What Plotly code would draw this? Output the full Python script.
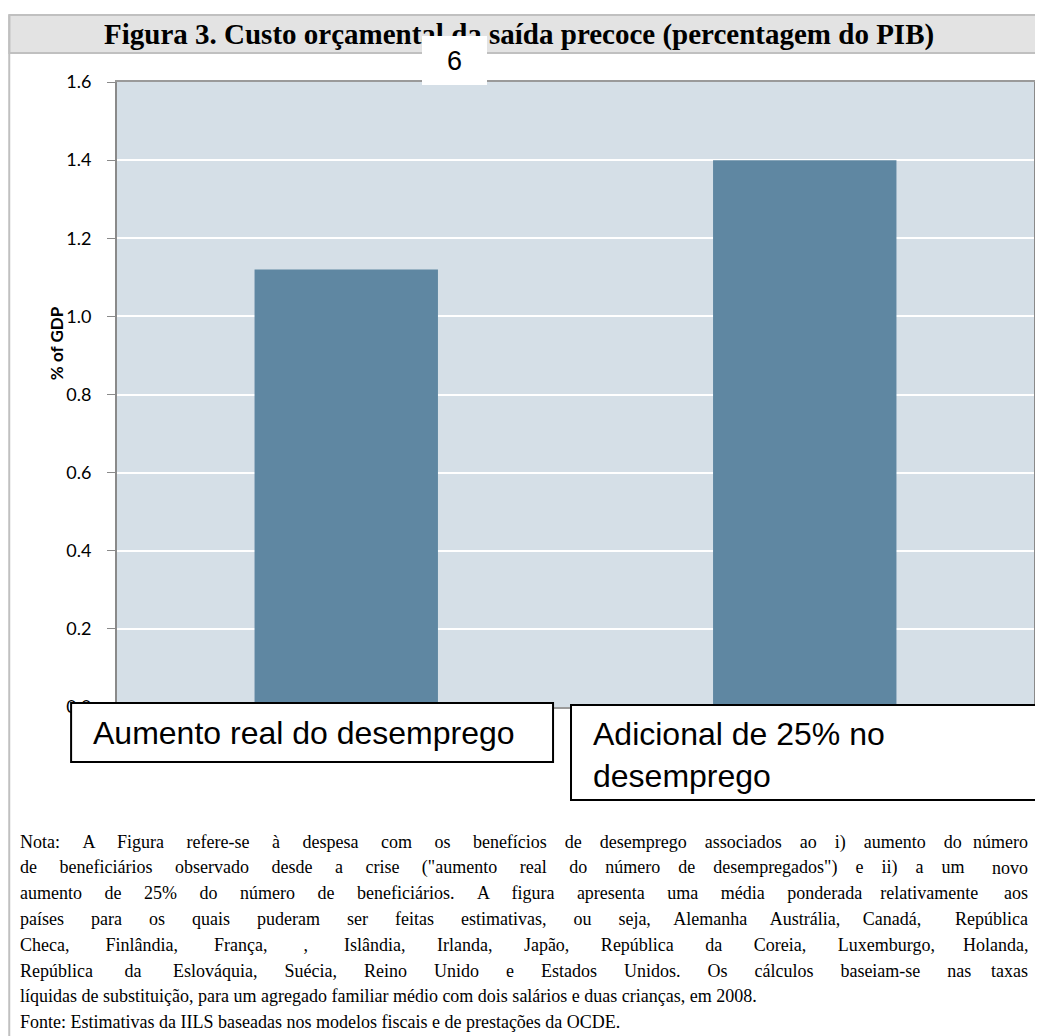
import plotly.graph_objects as go

# ---------------- data ----------------
categories = ["Aumento real do desemprego", "Adicional de 25% no<br>desemprego"]
values = [1.12, 1.40]
y_ticks = [0.0, 0.2, 0.4, 0.6, 0.8, 1.0, 1.2, 1.4, 1.6]
y_tick_labels = ["0.0", "0.2", "0.4", "0.6", "0.8", "1.0", "1.2", "1.4", "1.6"]
title_text = "Figura 3. Custo orçamental da saída precoce (percentagem do PIB)"
page_number = "6"
y_title = "% of GDP"
note_lines = [
    "Nota: A Figura refere-se à despesa com os benefícios de desemprego associados ao i) aumento do número",
    "de beneficiários observado desde a crise (\"aumento real do número de desempregados\") e ii) a um novo",
    "aumento de 25% do número de beneficiários. A figura apresenta uma média ponderada relativamente aos",
    "países para os quais puderam ser feitas estimativas, ou seja, Alemanha Austrália, Canadá, República",
    "Checa, Finlândia, França, , Islândia, Irlanda, Japão, República da Coreia, Luxemburgo, Holanda,",
    "República da Eslováquia, Suécia, Reino Unido e Estados Unidos. Os cálculos baseiam-se nas taxas",
    "líquidas de substituição, para um agregado familiar médio com dois salários e duas crianças, em 2008.",
    "Fonte: Estimativas da IILS baseadas nos modelos fiscais e de prestações da OCDE.",
]
# approximate natural widths (px) of each note line at the chosen font size, used to justify
note_natural_widths = [762, 762, 772, 740, 697, 714, None, None]

# ---------------- layout geometry (reference pixels) ----------------
OFF = 8                      # browser body margin
W, H = 1043 - OFF, 1036 - OFF
PL, PR, PT, PB = 117, 1036, 82, 707


def px(x):
    return (x - PL) / (PR - PL)


def py(y):
    return (PB - y) / (PB - PT)


BAR_COLOR = "#5f87a2"
PLOT_BG = "#d5dfe7"
NOTE_SIZE = 18
SPACE_W = 0.25 * NOTE_SIZE
NOTE_LEFT, NOTE_RIGHT = 18, 1032


def justify_head(line, natural):
    """Pad the words (except the last one) with extra spaces; last word is placed right-aligned."""
    words = line.split(" ")
    head, tail = words[:-1], words[-1]
    gaps = len(words) - 1
    n_extra = max(0, round(((NOTE_RIGHT - NOTE_LEFT) - natural) / SPACE_W))
    base, rem = divmod(n_extra, gaps)
    out = head[0]
    for i, w in enumerate(head[1:]):
        k = base + (1 if i < rem else 0)
        out += " " + "\u00a0" * k + w
    return out, tail


fig = go.Figure()
fig.add_trace(go.Bar(
    x=categories, y=values, marker=dict(color=BAR_COLOR, line=dict(width=0)),
    width=0.4, hoverinfo="skip",
))

shapes = [
    dict(type="rect", xref="paper", yref="paper", x0=px(9), x1=px(1050), y0=py(53), y1=py(15),
         fillcolor="#e3e3e3", line=dict(color="#c0c0c0", width=2), layer="below"),
    dict(type="line", xref="paper", yref="paper", x0=px(9), x1=px(9), y0=py(15), y1=py(1040),
         line=dict(color="#c0c0c0", width=2), layer="below"),
    dict(type="rect", xref="paper", yref="paper", x0=px(71), x1=px(554), y0=py(762), y1=py(703),
         fillcolor="white", line=dict(color="black", width=2), layer="above"),
    dict(type="rect", xref="paper", yref="paper", x0=px(572), x1=px(1060), y0=py(800), y1=py(705),
         fillcolor="white", line=dict(color="black", width=2), layer="above"),
]

annotations = [
    dict(text="<b>" + title_text + "</b>", xref="paper", yref="paper", x=px(520), y=py(34),
         xanchor="center", yanchor="middle", showarrow=False,
         font=dict(family="Liberation Serif", size=29, color="black")),
    dict(text=page_number, xref="paper", yref="paper", x=px(455.5), y=py(60.5),
         xanchor="center", yanchor="middle", showarrow=False, width=65, height=49,
         bgcolor="white", borderpad=0, borderwidth=0,
         font=dict(family="Liberation Sans", size=27, color="black")),
    dict(text="<b>" + y_title + "</b>", xref="paper", yref="paper", x=px(56), y=py(343),
         xanchor="center", yanchor="middle", showarrow=False, textangle=-90,
         font=dict(family="Lato", size=17, color="black")),
    dict(text=categories[0], xref="paper", yref="paper", x=px(91), y=py(733),
         xanchor="left", yanchor="middle", showarrow=False,
         font=dict(family="Liberation Sans", size=32, color="black")),
    dict(text=categories[1], xref="paper", yref="paper", x=px(592), y=py(755),
         xanchor="left", yanchor="middle", showarrow=False, align="left",
         font=dict(family="Liberation Sans", size=32, color="black")),
]

note_font = dict(family="Liberation Serif", size=NOTE_SIZE, color="black")
for i, line in enumerate(note_lines):
    yy = py(842 + 25.7 * i)
    nat = note_natural_widths[i]
    if nat is None:
        annotations.append(dict(text=line, xref="paper", yref="paper", x=px(NOTE_LEFT), y=yy,
                                xanchor="left", yanchor="middle", showarrow=False, font=note_font))
    else:
        head, tail = justify_head(line, nat)
        annotations.append(dict(text=head, xref="paper", yref="paper", x=px(NOTE_LEFT), y=yy,
                                xanchor="left", yanchor="middle", showarrow=False, font=note_font))
        annotations.append(dict(text=tail, xref="paper", yref="paper", x=px(NOTE_RIGHT), y=yy,
                                xanchor="right", yanchor="middle", showarrow=False, font=note_font))

fig.update_layout(
    width=W, height=H,
    margin=dict(l=PL - OFF, r=1043 - PR, t=PT - OFF, b=1036 - PB, pad=0),
    paper_bgcolor="white", plot_bgcolor=PLOT_BG,
    showlegend=False, bargap=0.6,
    shapes=shapes, annotations=annotations,
    xaxis=dict(showticklabels=False, ticks="", showgrid=False, showline=True,
               linecolor="#9a9a9a", linewidth=2, mirror=True, zeroline=False),
    yaxis=dict(range=[0, 1.6], tickvals=y_ticks, ticktext=y_tick_labels,
               ticks="outside", ticklen=8, tickcolor="#8a8a8a", tickwidth=1,
               showgrid=True, gridcolor="white", gridwidth=2, zeroline=False,
               showline=True, linecolor="#8a8a8a", linewidth=2, mirror=True,
               ticklabelstandoff=12,
               tickfont=dict(family="Lato", size=18, color="black")),
)

fig.write_html("out.html")
